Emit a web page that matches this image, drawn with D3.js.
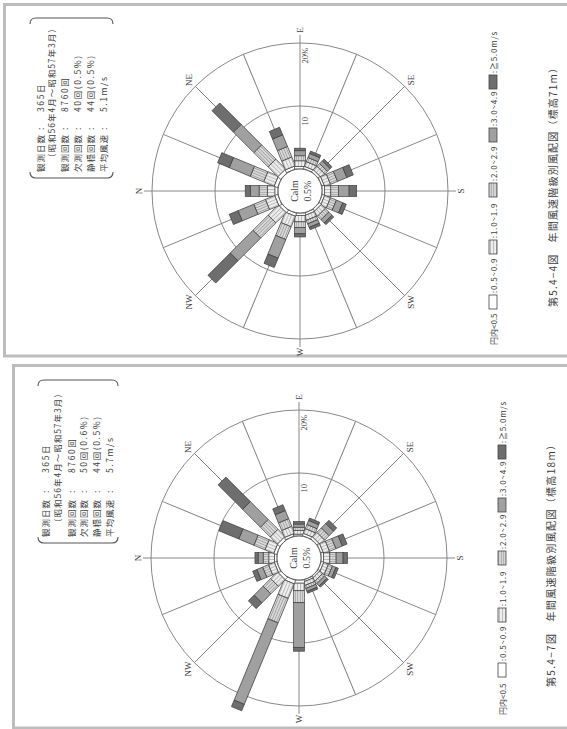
<!DOCTYPE html>
<html><head><meta charset="utf-8">
<script src="https://cdn.jsdelivr.net/npm/d3@7"></script>
<style>body{margin:0;background:#fff}svg{display:block}</style>
</head><body>
<svg id="chart" width="567" height="729"></svg>
<script>
// ---------- data ----------
const directions = ["N","NNE","NE","ENE","E","ESE","SE","SSE","S","SSW","SW","WSW","W","WNW","NW","NNW"];
const labeledDirections = ["N","NE","E","SE","S","SW","W","NW"];
const speedClasses = ["0.5~0.9","1.0~1.9","2.0~2.9","3.0~4.9","≧5.0"];
const legendLead = "円内<0.5";
const legendLabels = [":0.5~0.9", ":1.0~1.9", ":2.0~2.9", ":3.0~4.9", ":≧5.0m/s"];
const ringTicks = [10, 20];
const ringTickLabels = ["10", "20%"];

// 図5.4-4 (標高71m) — frequency % by speed class
const top_05_09 = [0.5,0.6,0.6,0.5,0.4,0.4,0.4,0.4,0.4,0.4,0.4,0.4,0.4,0.5,0.5,0.5];
const top_10_19 = [1.2,1.8,2.2,1.5,0.9,0.8,0.8,1.0,1.0,1.0,0.9,0.8,1.0,1.8,2.3,1.6];
const top_20_29 = [1.3,2.3,3.2,1.8,0.8,0.7,0.6,1.2,1.2,1.0,0.8,0.6,0.9,2.2,3.4,2.0];
const top_30_49 = [1.4,3.6,4.6,2.0,0.8,0.7,0.6,1.6,1.7,1.1,0.7,0.6,1.0,3.2,5.1,2.7];
const top_50up  = [0.8,2.0,4.8,1.3,0.4,0.4,0.4,1.1,1.2,0.6,0.4,0.4,0.5,1.6,5.0,1.5];
const top_calm = "0.5%";
const top_title = "第5.4−4図　年間風速階級別風配図（標高71m）";
const top_info_labels = ["観測日数", "", "観測回数", "欠測回数", "静穏回数", "平均風速"];
const top_info_values = ["365日", "（昭和56年4月〜昭和57年3月）", "8760回", "40回(0.5%)", "44回(0.5%)", "5.1m/s"];

// 図5.4-7 (標高18m)
const bot_05_09 = [0.4,0.5,0.5,0.4,0.3,0.4,0.4,0.4,0.4,0.4,0.3,0.3,0.5,0.6,0.5,0.4];
const bot_10_19 = [0.9,1.5,1.6,1.2,0.6,0.8,1.0,1.0,1.0,0.8,0.6,0.6,1.2,2.5,1.5,1.0];
const bot_20_29 = [0.9,1.9,2.2,1.3,0.5,0.7,1.0,1.1,1.0,0.7,0.5,0.5,1.9,4.2,1.7,1.0];
const bot_30_49 = [0.8,2.6,4.0,1.4,0.5,0.7,1.0,1.1,1.1,0.6,0.5,0.5,7.1,14.0,2.0,1.0];
const bot_50up  = [0.5,3.4,5.5,1.0,0.4,0.4,0.7,0.8,0.7,0.4,0.3,0.3,0.6,1.1,1.3,0.7];
const bot_calm = "0.5%";
const bot_title = "第5.4−7図　年間風速階級別風配図（標高18m）";
const bot_info_labels = ["観測日数", "", "観測回数", "欠測回数", "静穏回数", "平均風速"];
const bot_info_values = ["365日", "（昭和56年4月〜昭和57年3月）", "8760回", "50回(0.6%)", "44回(0.5%)", "5.7m/s"];

// ---------- drawing ----------
const svg = d3.select("#chart");
const defs = svg.append("defs");
const classStyle = [
  {bg:"#ffffff", line:null, gap:3},
  {bg:"#eeeeee", line:"#9a9a9a", gap:3},
  {bg:"#d9d9d9", line:"#808080", gap:2.5},
  {bg:"#bcbcbc", line:"#5e5e5e", gap:2},
  {bg:"#7d7d7d", line:"#4a4a4a", gap:2}
];
classStyle.forEach((s, i) => {
  const p = defs.append("pattern").attr("id", "pat" + i)
    .attr("patternUnits", "userSpaceOnUse").attr("width", 4).attr("height", s.gap);
  p.append("rect").attr("width", 4).attr("height", s.gap).attr("fill", s.bg);
  if (s.line) p.append("line").attr("x1", 0).attr("x2", 4).attr("y1", s.gap/2).attr("y2", s.gap/2)
    .attr("stroke", s.line).attr("stroke-width", 0.6);
});

const ink = "#3c3c3c";
const serif = "'Liberation Serif','DejaVu Serif',serif";
const cjk = "'Noto Sans CJK JP','Noto Sans CJK SC',sans-serif";

// panel frames (screen coords)
svg.append("rect").attr("x", 4.5).attr("y", 4.5).attr("width", 600).attr("height", 351.5)
  .attr("fill", "none").attr("stroke", "#bdbdbd").attr("stroke-width", 3);
svg.append("rect").attr("x", 13.5).attr("y", 365.5).attr("width", 600).attr("height", 362.5)
  .attr("fill", "none").attr("stroke", "#bdbdbd").attr("stroke-width", 3);

function drawPanel(cfg) {
  // local unrotated frame: N up; rotated -90deg onto the page
  const g = svg.append("g").attr("transform", `translate(0,${cfg.H}) rotate(-90)`);
  const rows = directions.map((d, i) => ({dir: d, c0: cfg.series[0][i], c1: cfg.series[1][i],
    c2: cfg.series[2][i], c3: cfg.series[3][i], c4: cfg.series[4][i]}));
  const keys = ["c0","c1","c2","c3","c4"];
  const stacked = d3.stack().keys(keys)(rows);
  const r = d3.scaleLinear().domain([0, 20]).range([22, 148]);
  const ang = d3.scalePoint().domain(directions).range([0, 337.5]);
  const rose = g.append("g").attr("transform", `translate(${cfg.cx},${cfg.cy})`);

  // rings
  rose.selectAll("circle.ring").data(ringTicks).join("circle")
    .attr("r", d => r(d)).attr("fill", "none").attr("stroke", "#7a7a7a").attr("stroke-width", 0.9);
  // spokes
  directions.forEach(d => {
    const card = ["N","E","S","W"].includes(d);
    rose.append("line").attr("transform", `rotate(${ang(d) - 90})`)
      .attr("x1", r(0)).attr("x2", card ? 156 : r(20))
      .attr("stroke", "#7a7a7a").attr("stroke-width", 0.9);
  });
  // bars
  const bw = 11;
  directions.forEach((d, i) => {
    const bg = rose.append("g").attr("transform", `rotate(${ang(d) - 90})`);
    stacked.forEach((s, k) => {
      const [y0, y1] = s[i];
      bg.append("rect").attr("x", r(y0)).attr("width", r(y1) - r(y0))
        .attr("y", -bw/2).attr("height", bw)
        .attr("fill", `url(#pat${k})`).attr("stroke", "#404040").attr("stroke-width", 0.7);
    });
  });
  // calm circle
  rose.append("circle").attr("r", r(0)).attr("fill", "#fff").attr("stroke", "#555").attr("stroke-width", 0.9);
  rose.append("text").attr("y", -6).attr("text-anchor", "middle").attr("dominant-baseline", "central")
    .attr("font-family", serif).attr("font-size", 10).attr("fill", ink).text("Calm");
  rose.append("text").attr("y", 7).attr("text-anchor", "middle").attr("dominant-baseline", "central")
    .attr("font-family", serif).attr("font-size", 10).attr("fill", ink).text(cfg.calm);
  // ring tick labels along E axis
  ringTicks.forEach((t, i) => {
    rose.append("text").attr("x", r(t) - (i ? 5 : 11)).attr("y", 5)
      .attr("text-anchor", "end").attr("dominant-baseline", "central")
      .attr("font-family", serif).attr("font-size", 8.5).attr("fill", ink).text(ringTickLabels[i]);
  });
  // direction labels
  labeledDirections.forEach(d => {
    const a = (ang(d) - 90) * Math.PI / 180;
    const R = ["N","E","S","W"].includes(d) ? 161 : 157;
    rose.append("text").attr("x", R * Math.cos(a)).attr("y", R * Math.sin(a))
      .attr("text-anchor", "middle").attr("dominant-baseline", "central")
      .attr("font-family", serif).attr("font-size", 9).attr("fill", ink).text(d);
  });

  // info block with brackets
  const ib = cfg.info;
  const bw2 = 6;
  g.append("path").attr("d", `M${ib.x0 + bw2},${ib.y0} Q${ib.x0},${ib.y0} ${ib.x0},${ib.y0 + bw2} L${ib.x0},${ib.y1 - bw2} Q${ib.x0},${ib.y1} ${ib.x0 + bw2},${ib.y1}`)
    .attr("fill", "none").attr("stroke", "#555").attr("stroke-width", 1.1);
  g.append("path").attr("d", `M${ib.x1 - bw2},${ib.y0} Q${ib.x1},${ib.y0} ${ib.x1},${ib.y0 + bw2} L${ib.x1},${ib.y1 - bw2} Q${ib.x1},${ib.y1} ${ib.x1 - bw2},${ib.y1}`)
    .attr("fill", "none").attr("stroke", "#555").attr("stroke-width", 1.1);
  cfg.infoLabels.forEach((lab, i) => {
    const y = ib.rows[i];
    const t = g.append("text").attr("y", y).attr("dominant-baseline", "central")
      .attr("font-family", cjk).attr("font-size", 8.5).attr("fill", ink);
    if (lab) {
      t.append("tspan").attr("x", ib.labelX).attr("letter-spacing", 1).text(lab);
      t.append("tspan").attr("x", ib.colonX).text(":");
      t.append("tspan").attr("x", ib.valueX).attr("letter-spacing", 1.6).text(cfg.infoValues[i]);
    } else {
      t.append("tspan").attr("x", ib.labelX + 10).attr("letter-spacing", 1).text(cfg.infoValues[i]);
    }
  });

  // legend
  const lg = cfg.legend;
  g.append("text").attr("x", lg.x).attr("y", lg.y).attr("dominant-baseline", "central")
    .attr("font-family", cjk).attr("font-size", 8).attr("fill", ink).text(legendLead);
  speedClasses.forEach((c, k) => {
    const bx = lg.boxes[k];
    g.append("rect").attr("x", bx - 7).attr("y", lg.y - 4).attr("width", 14).attr("height", 8)
      .attr("fill", `url(#pat${k})`).attr("stroke", "#444").attr("stroke-width", 0.8);
    g.append("text").attr("x", bx + 9).attr("y", lg.y).attr("dominant-baseline", "central")
      .attr("font-family", cjk).attr("font-size", 8).attr("letter-spacing", 0.8).attr("fill", ink)
      .text(legendLabels[k]);
  });

  // title
  g.append("text").attr("x", cfg.title.x).attr("y", cfg.title.y).attr("dominant-baseline", "central")
    .attr("font-family", cjk).attr("font-size", 10).attr("fill", ink)
    .attr("textLength", cfg.title.len).attr("lengthAdjust", "spacing").text(cfg.titleText);
}

drawPanel({
  H: 360, cx: 169, cy: 300,
  series: [top_05_09, top_10_19, top_20_29, top_30_49, top_50up],
  calm: top_calm, titleText: top_title,
  infoLabels: top_info_labels, infoValues: top_info_values,
  info: {x0: 182, x1: 342, y0: 30, y1: 113, rows: [40, 51, 64, 77, 90, 103], labelX: 188, colonX: 230, valueX: 248},
  legend: {x: 15, y: 493, boxes: [58, 113, 170, 225, 278]},
  title: {x: 53, y: 552, len: 244}
});
drawPanel({
  H: 729, cx: 171, cy: 299,
  series: [bot_05_09, bot_10_19, bot_20_29, bot_30_49, bot_50up],
  calm: bot_calm, titleText: bot_title,
  infoLabels: bot_info_labels, infoValues: bot_info_values,
  info: {x0: 186, x1: 349, y0: 38, y1: 118, rows: [45, 57, 71, 83, 96, 109], labelX: 192, colonX: 236, valueX: 256},
  legend: {x: 14, y: 502, boxes: [59, 114, 171, 224, 277]},
  title: {x: 42, y: 550, len: 247}
});
</script>
</body></html>
